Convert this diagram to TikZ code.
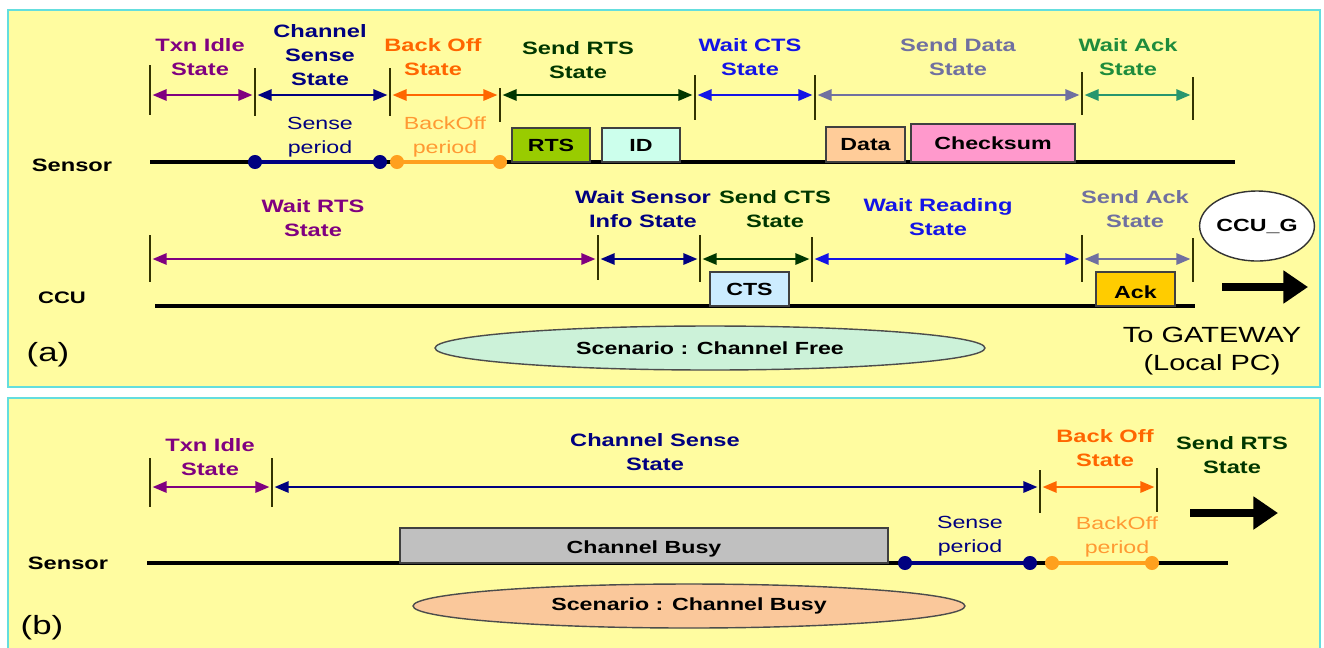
\documentclass[tikz,border=0pt]{standalone}
\usepackage{fontspec}
\setmainfont{Liberation Sans}[FakeStretch=1.32]
\usetikzlibrary{arrows.meta,shapes.geometric,fit}
\definecolor{panel}{RGB}{255,252,160}
\definecolor{edge}{RGB}{100,222,222}
\definecolor{cpurp}{RGB}{128,0,128}
\definecolor{cnavy}{RGB}{0,0,128}
\definecolor{corng}{RGB}{255,102,0}
\definecolor{corl}{RGB}{255,153,51}
\definecolor{cdot}{RGB}{255,160,30}
\definecolor{cdkgr}{RGB}{0,55,0}
\definecolor{cblue}{RGB}{20,20,230}
\definecolor{cgrey}{RGB}{112,112,160}
\definecolor{cgreen}{RGB}{30,140,60}
\definecolor{cteal}{RGB}{40,150,110}
\definecolor{ctick}{RGB}{51,51,0}
\definecolor{frts}{RGB}{153,204,0}
\definecolor{fid}{RGB}{204,255,236}
\definecolor{fdata}{RGB}{255,204,153}
\definecolor{fcheck}{RGB}{255,153,204}
\definecolor{fcts}{RGB}{204,236,255}
\definecolor{fack}{RGB}{255,204,0}
\definecolor{fbusy}{RGB}{192,192,192}
\definecolor{ffree}{RGB}{204,242,217}
\definecolor{fbsc}{RGB}{250,200,155}
\begin{document}
\begin{tikzpicture}[x=0.02cm,y=-0.02cm,
  lab/.style={font=\fontsize{10.2}{13.5}\selectfont\bfseries, align=center, inner sep=0pt},
  plab/.style={font=\fontsize{10}{14}\selectfont, align=center, inner sep=0pt},
  tick/.style={ctick, line width=1.2pt},
  arr/.style={line width=1pt, {Triangle[length=8pt,width=6.5pt]}-{Triangle[length=8pt,width=6.5pt]}, shorten <=1.5pt, shorten >=1.5pt},
  tl/.style={line width=1.9pt, black},
  seg/.style={line width=1.9pt},
  pbox/.style={draw=black!75, line width=1pt, inner sep=0pt},
  btxt/.style={font=\fontsize{10}{11}\selectfont\bfseries, inner sep=0pt},
  ndot/.style={circle, inner sep=0pt, minimum size=8pt, fill=cnavy},
  odot/.style={circle, inner sep=0pt, minimum size=8pt, fill=cdot},
  scen/.style={ellipse, draw=black!70, line width=0.8pt, inner sep=0pt, font=\fontsize{10}{11}\selectfont\bfseries},
  big/.style={line width=4.5pt, -{Triangle[length=14pt,width=18pt]}}]
\useasboundingbox (0,0) rectangle (1324,647);
\fill[white] (0,0) rectangle (1324,647);
% panels
\draw[edge, line width=1.2pt, fill=panel] (8,10) rectangle (1320,387);
\draw[edge, line width=1.2pt, fill=panel] (8,398) rectangle (1320,652);

% ================= panel (a) =================
% sensor timeline
\coordinate (sa0) at (150,162);
\coordinate (sa1) at (1235,162);
\draw[tl] (sa0) -- (sa1);
\node[font=\fontsize{10.2}{12}\selectfont\bfseries] (sensA) at (72,165) {Sensor};
% ticks
\foreach \x/\a/\b in {150/65/115,255/68/116,390/68/116,500/88/122,695/75/120,815/75/120,1082/72/115,1193/77/120}
  \draw[tick] (\x,\a) -- (\x,\b);
\coordinate (ta1) at (150,95); \coordinate (ta2) at (255,95);
\coordinate (ta3) at (390,95); \coordinate (ta4) at (500,95);
\coordinate (ta5) at (695,95); \coordinate (ta6) at (815,95);
\coordinate (ta7) at (1082,95); \coordinate (ta8) at (1193,95);
\draw[arr,cpurp] (ta1) -- (ta2);
\draw[arr,cnavy] (ta2) -- (ta3);
\draw[arr,corng] (ta3) -- (ta4);
\draw[arr,cdkgr] (ta4) -- (ta5);
\draw[arr,cblue] (ta5) -- (ta6);
\draw[arr,cgrey] (ta6) -- (ta7);
\draw[arr,cteal] (ta7) -- (ta8);
% state labels
\node[lab,cpurp] (la1) at (200,57) {Txn Idle\\State};
\node[lab,cnavy] (la2) at (320,55) {Channel\\Sense\\State};
\node[lab,corng] (la3) at (433,57) {Back Off\\State};
\node[lab,cdkgr] (la4) at (578,60) {Send RTS\\State};
\node[lab,cblue] (la5) at (750,57) {Wait CTS\\State};
\node[lab,cgrey] (la6) at (958,57) {Send Data\\State};
\node[lab,cgreen] (la7) at (1128,57) {Wait Ack\\State};
% sense / backoff periods
\node[plab,cnavy] (spa) at (320,137) {Sense\\period};
\node[plab,corl] (bpa) at (445,137) {BackOff\\period};
\node[ndot] (sd1) at (255,162) {};
\node[ndot] (sd2) at (380,162) {};
\draw[seg,cnavy] (sd1.center) -- (sd2.center);
\node[odot] (od1) at (397,162) {};
\node[odot] (od2) at (500,162) {};
\draw[seg,cdot] (od1.center) -- (od2.center);
% packet boxes
\node[pbox, fill=frts, fit={(512,128) (590,162)}] (rts) {};
\node[btxt] (rtst) at (rts) {RTS};
\node[pbox, fill=fid, fit={(602,128) (680,162)}] (id) {};
\node[btxt] (idt) at (id) {ID};
\node[pbox, fill=fdata, fit={(826,127) (905,162)}] (data) {};
\node[btxt] (datat) at (data) {Data};
\node[pbox, fill=fcheck, fit={(911,124) (1075,162)}] (chk) {};
\node[btxt] (chkt) at (chk) {Checksum};

% CCU timeline
\coordinate (ca0) at (155,306);
\coordinate (ca1) at (1195,306);
\draw[tl] (ca0) -- (ca1);
\node[font=\fontsize{9.5}{12}\selectfont\bfseries] (ccuA) at (62,298) {CCU};
\foreach \x/\a/\b in {150/235/282,598/235/280,700/235/282,812/237/282,1082/235/282,1193/238/282}
  \draw[tick] (\x,\a) -- (\x,\b);
\coordinate (tc1) at (150,259); \coordinate (tc2) at (598,259);
\coordinate (tc3) at (700,259); \coordinate (tc4) at (812,259);
\coordinate (tc5) at (1082,259); \coordinate (tc6) at (1193,259);
\draw[arr,cpurp] (tc1) -- (tc2);
\draw[arr,cnavy] (tc2) -- (tc3);
\draw[arr,cdkgr] (tc3) -- (tc4);
\draw[arr,cblue] (tc4) -- (tc5);
\draw[arr,cgrey] (tc5) -- (tc6);
\node[lab,cpurp] (lc1) at (313,218) {Wait RTS\\State};
\node[lab,cnavy] (lc2) at (643,209) {Wait Sensor\\Info State};
\node[lab,cdkgr] (lc3) at (775,209) {Send CTS\\State};
\node[lab,cblue] (lc4) at (938,217) {Wait Reading\\State};
\node[lab,cgrey] (lc5) at (1135,209) {Send Ack\\State};
\node[pbox, fill=fcts, fit={(710,272) (789,306)}] (cts) {};
\node[btxt] (ctst) at (cts) {CTS};
\node[pbox, fill=fack, fit={(1096,272) (1175,306)}] (ack) {};
\node[btxt] (ackt) at ([yshift=-2pt]ack.center) {Ack};
% CCU_G and gateway arrow
\node[ellipse, draw=black!80, line width=0.8pt, fill=white, minimum width=1.72cm, minimum height=1.4cm, inner sep=0pt, font=\fontsize{10}{11}\selectfont\bfseries] (ccug) at (1257,226) {CCU\_G};
\coordinate (ga0) at (1222,287);
\coordinate (ga1) at (1308,287);
\draw[big] (ga0) -- (ga1);
\node[font=\fontsize{12.5}{16}\selectfont, align=center, inner sep=0pt] (gw) at (1212,351) {To GATEWAY\\(Local PC)};
\node[scen, fill=ffree, minimum width=11cm, minimum height=0.88cm] (scA) at (710,348) {Scenario : Channel Free};
\node[font=\fontsize{15}{18}\selectfont, inner sep=0pt] (pa) at (48,355) {(a)};

% ================= panel (b) =================
\coordinate (sb0) at (147,563);
\coordinate (sb1) at (1228,563);
\draw[tl] (sb0) -- (sb1);
\node[font=\fontsize{10.2}{12}\selectfont\bfseries] (sensB) at (68,563) {Sensor};
\foreach \x/\a/\b in {150/458/507,272/458/507,1040/470/513,1157/468/512}
  \draw[tick] (\x,\a) -- (\x,\b);
\coordinate (tb1) at (150,487); \coordinate (tb2) at (272,487);
\coordinate (tb3) at (1040,487); \coordinate (tb4) at (1157,487);
\draw[arr,cpurp] (tb1) -- (tb2);
\draw[arr,cnavy] (tb2) -- (tb3);
\draw[arr,corng] (tb3) -- (tb4);
\node[lab,cpurp] (lb1) at (210,457) {Txn Idle\\State};
\node[lab,cnavy] (lb2) at (655,452) {Channel Sense\\State};
\node[lab,corng] (lb3) at (1105,448) {Back Off\\State};
\node[lab,cdkgr] (lb4) at (1232,455) {Send RTS\\State};
\coordinate (gb0) at (1190,513);
\coordinate (gb1) at (1278,513);
\draw[big] (gb0) -- (gb1);
\node[pbox, fill=fbusy, fit={(400,528) (888,563)}] (busy) {};
\node[btxt] (busyt) at ([yshift=-2pt]busy.center) {Channel Busy};
\node[plab,cnavy] (spb) at (970,536) {Sense\\period};
\node[plab,corl] (bpb) at (1117,537) {BackOff\\period};
\node[ndot] (sd3) at (905,563) {};
\node[ndot] (sd4) at (1030,563) {};
\draw[seg,cnavy] (sd3.center) -- (sd4.center);
\node[odot] (od3) at (1052,563) {};
\node[odot] (od4) at (1152,563) {};
\draw[seg,cdot] (od3.center) -- (od4.center);
\node[scen, fill=fbsc, minimum width=11.04cm, minimum height=0.88cm] (scB) at (689,606) {Scenario : Channel Busy};
\node[font=\fontsize{15}{18}\selectfont, inner sep=0pt] (pb) at (42,628) {(b)};
\end{tikzpicture}
\end{document}
